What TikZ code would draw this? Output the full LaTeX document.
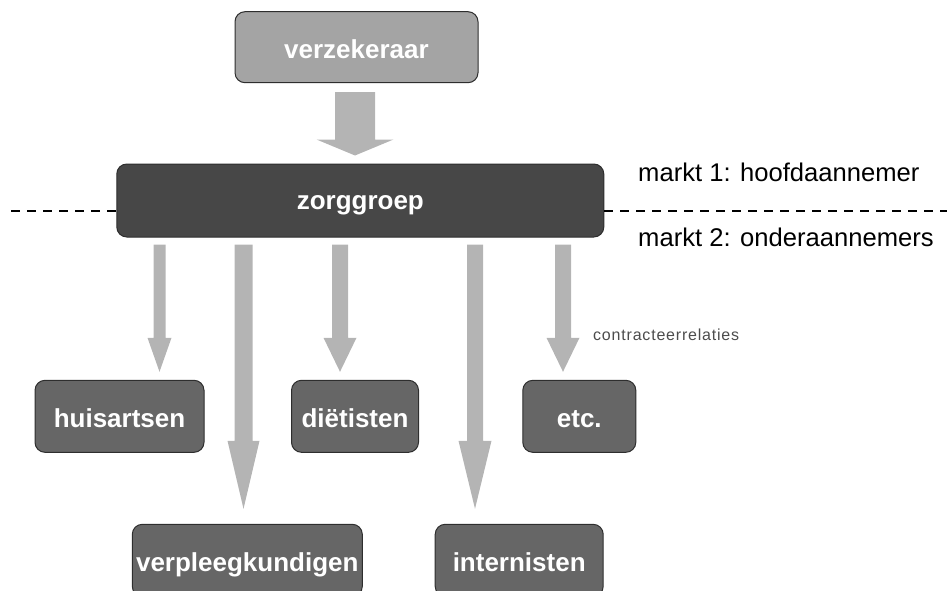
\documentclass[tikz,border=0pt]{standalone}
\usepackage{fontspec}
\setmainfont{Liberation Sans}
\usetikzlibrary{calc}
\definecolor{boxlight}{HTML}{A4A4A4}
\definecolor{boxdark}{HTML}{474747}
\definecolor{boxmid}{HTML}{666666}
\definecolor{arrowgray}{HTML}{B4B4B4}
\definecolor{edgegray}{HTML}{2E2E2E}
\tikzset{
  box/.style={draw=edgegray, line width=1pt, rounded corners=10pt, inner sep=0pt,
    text=white, text height=22pt, text depth=0pt, font=\bfseries\fontsize{26}{26}\selectfont},
  note/.style={inner sep=0pt, font=\fontsize{25.6}{26}\selectfont, text=black},
  divider/.style={dash pattern=on 9pt off 7pt, line width=2.2pt, black}
}
% block arrow from named point #1 to named point #2 (tip),
% shaft half width #3, head half width #4, head length #5 (all pt)
\newcommand\blockarrow[5]{%
  \fill[arrowgray] let \p1=(#1), \p2=(#2) in
    (\x1-#3pt,\y1) -- (\x1+#3pt,\y1) -- (\x1+#3pt,\y2+#5pt) -- (\x1+#4pt,\y2+#5pt)
    -- (\x1,\y2) -- (\x1-#4pt,\y2+#5pt) -- (\x1-#3pt,\y2+#5pt) -- cycle;}
\begin{document}
\begin{tikzpicture}[x=1pt,y=-1pt]
\useasboundingbox (0,0) rectangle (947,591);

% boxes
\node[box, fill=boxlight, minimum width=243pt, minimum height=71pt] (verz) at (356.5,47.2) {verzekeraar};
\node[box, fill=boxdark, minimum width=487pt, minimum height=73pt, text height=18pt] (zorg) at (360.3,200.5) {zorggroep};
\node[box, fill=boxmid, minimum width=169pt, minimum height=72pt] (hu) at (119.5,416.3) {huisartsen};
\node[box, fill=boxmid, minimum width=127pt, minimum height=72pt] (die) at (355,416.3) {diëtisten};
\node[box, fill=boxmid, minimum width=113pt, minimum height=72pt] (etc) at (579.3,416.3) {etc.};
\node[box, fill=boxmid, minimum width=230pt, minimum height=72pt] (verp) at (247.3,560.3) {verpleegkundigen};
\node[box, fill=boxmid, minimum width=168pt, minimum height=72pt] (int) at (519.2,560.3) {internisten};

% arrow x positions
\coordinate (x0) at (355,0);
\coordinate (x1) at (159.5,0);
\coordinate (x2) at (243.5,0);
\coordinate (x3) at (340,0);
\coordinate (x4) at (475,0);
\coordinate (x5) at (563,0);

% arrow end points
\coordinate (s0) at ($(verz.south -| x0)+(0,9)$);
\coordinate (t0) at ($(zorg.north -| x0)+(0,-8)$);
\coordinate (s1) at ($(zorg.south -| x1)+(0,7)$);
\coordinate (t1) at ($(hu.north -| x1)+(0,-8)$);
\coordinate (s2) at ($(zorg.south -| x2)+(0,7)$);
\coordinate (t2) at ($(verp.north -| x2)+(0,-15)$);
\coordinate (s3) at ($(zorg.south -| x3)+(0,7)$);
\coordinate (t3) at ($(die.north -| x3)+(0,-8)$);
\coordinate (s4) at ($(zorg.south -| x4)+(0,7)$);
\coordinate (t4) at ($(int.north -| x4)+(0,-15)$);
\coordinate (s5) at ($(zorg.south -| x5)+(0,7)$);
\coordinate (t5) at ($(etc.north -| x5)+(0,-8)$);

\blockarrow{s0}{t0}{20}{38.5}{16}
\blockarrow{s1}{t1}{6}{12}{34}
\blockarrow{s2}{t2}{9}{16}{68}
\blockarrow{s3}{t3}{8}{16.5}{34}
\blockarrow{s4}{t4}{8}{16.5}{68}
\blockarrow{s5}{t5}{8}{16.5}{34}

% divider
\coordinate (dl) at (11,211);
\coordinate (dr) at (947,211);
\draw[divider] (dl) -- (dl -| zorg.west);
\draw[divider] (dr -| zorg.east) -- (dr);

% labels
\node[note, anchor=base west] (m1) at (638,181.7) {markt 1: hoofdaannemer};
\node[note, anchor=base west] (m2) at (638,246.7) {markt 2: onderaannemers};
\node[inner sep=0pt, anchor=west, text=black!70, font=\fontsize{16}{16}\selectfont\addfontfeatures{LetterSpace=5}] (cr) at (593,335) {contracteerrelaties};
\end{tikzpicture}
\end{document}
